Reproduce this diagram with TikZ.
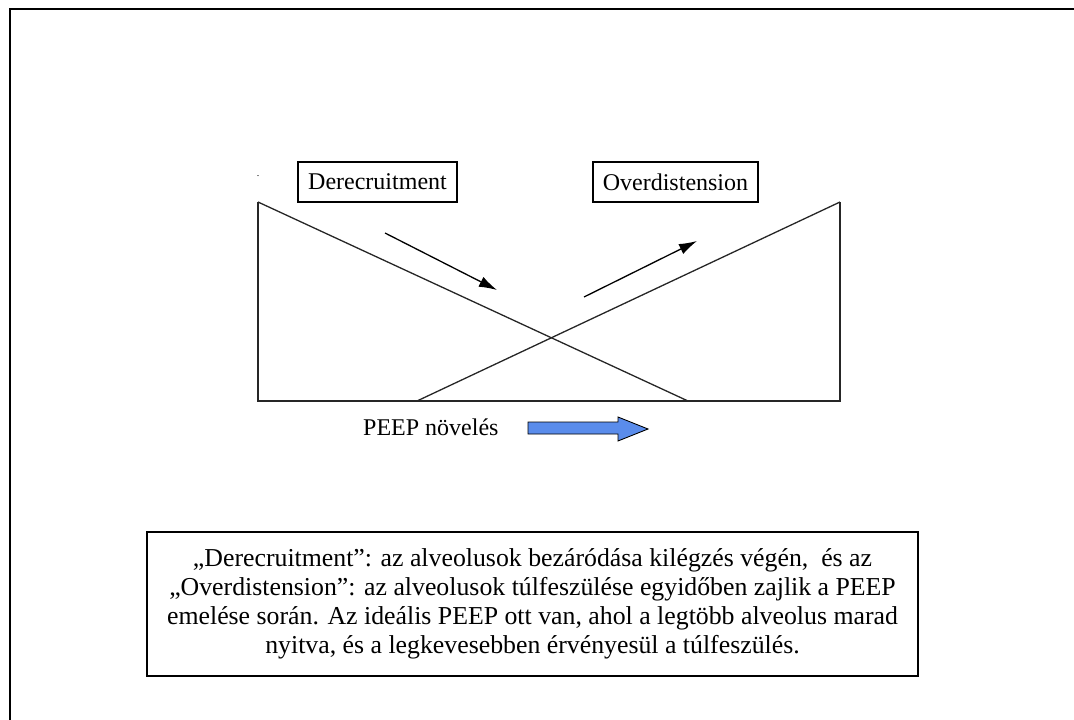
\documentclass[tikz,border=0pt]{standalone}
\usepackage{fontspec}
\setmainfont{Liberation Serif}
\usetikzlibrary{arrows.meta}
\definecolor{peepblue}{RGB}{90,140,235}
\begin{document}
\begin{tikzpicture}[x=1pt,y=-1pt,
  txt/.style={font=\fontsize{24}{29}\selectfont, inner sep=0pt},
  labelbox/.style={draw, line width=1.2pt, txt, minimum height=40pt},
  curve/.style={line width=1.3pt, draw=black!85},
  trend/.style={line width=1.3pt, -{Latex[length=18pt,width=11pt]}}]
\useasboundingbox (0,0) rectangle (1074,720);

% page frame (left and top edges)
\coordinate (fb) at (10,720);
\coordinate (fc) at (10,9);
\coordinate (fr) at (1074,9);
\draw[line width=2.2pt] (fb) -- (fc) -- (fr);

% corner points of the chart
\coordinate (tl) at (258,202);
\coordinate (bl) at (258,401);
\coordinate (br) at (840,401);
\coordinate (tr) at (840,202);
\coordinate (dend) at (688,401);
\coordinate (ostart) at (417,401);

\draw[curve] (tl) -- (bl) -- (br) -- (tr);
\draw[curve] (tl) -- (dend);
\draw[curve] (ostart) -- (tr);

% stray mark above the left edge
\node[font=\fontsize{10}{10}\selectfont, inner sep=0pt] (dot) at (258,176) {.};

% labels
\node[labelbox, minimum width=159pt] (derec) at (377.5,182) {Derecruitment};
\node[labelbox, minimum width=165pt] (over) at (675.5,182) {Overdistension};

% direction arrows
\coordinate (a1s) at (385,233);
\coordinate (a1e) at (497,290);
\coordinate (a2s) at (584,297);
\coordinate (a2e) at (697,241);
\draw[trend] (a1s) -- (a1e);
\draw[trend] (a2s) -- (a2e);

% PEEP increase
\node[txt, anchor=base west] (peep) at (363,435) {PEEP növelés};
\draw[fill=peepblue, line width=0.9pt, line join=miter]
  (528,422) -- (618,422) -- (618,417) -- (648,429) -- (618,441)
  -- (618,434) -- (528,434) -- cycle;

% explanation
\node[draw, line width=2.5pt, minimum width=771pt, minimum height=144pt,
      font=\fontsize{25.8}{29}\selectfont, inner sep=0pt,
      align=center] (note) at (532.5,604)
  {„Derecruitment”: az alveolusok bezáródása kilégzés végén, \ és az\\
   „Overdistension”: az alveolusok túlfeszülése egyidőben zajlik a PEEP\\
   emelése során. Az ideális PEEP ott van, ahol a legtöbb alveolus marad\\
   nyitva, és a legkevesebben érvényesül a túlfeszülés.};
\end{tikzpicture}
\end{document}
